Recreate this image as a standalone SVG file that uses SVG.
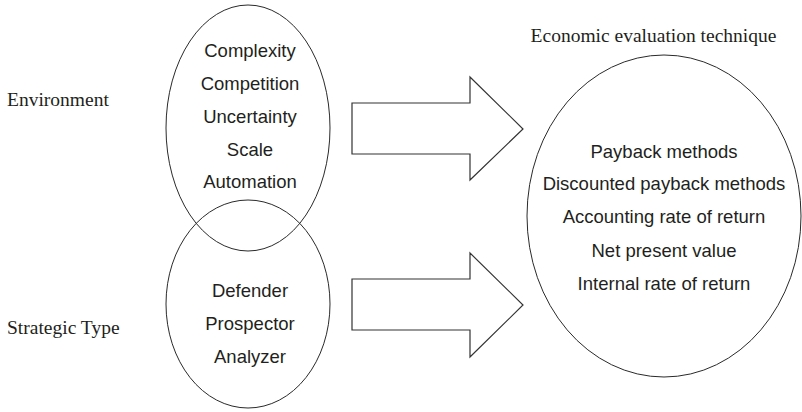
<svg xmlns="http://www.w3.org/2000/svg" width="802" height="412" viewBox="0 0 802 412">
<style>
.shape{fill:none;stroke:#2a2a2a;stroke-width:1}
.arrow{fill:#fff;stroke:#333;stroke-width:1.2}
.sans{font-family:"Liberation Sans",Arial,sans-serif;font-size:18.5px;fill:#231f20;text-anchor:middle}
.serif{font-family:"Liberation Serif","Times New Roman",serif;font-size:19.5px;fill:#231f20}
</style>
<rect width="802" height="412" fill="#fff"/>
<g id="connectors">
<path class="arrow" d="M352,103 H470 V77 L523,129 L470,180 V154 H352 Z"/>
<path class="arrow" d="M352,279 H470 V253 L523,305 L470,357 V330 H352 Z"/>
</g>
<g id="environment">
<ellipse class="shape" cx="248" cy="128" rx="82" ry="123"/>
<text class="serif" x="7" y="106">Environment</text>
<text class="sans" x="250" y="57">Complexity</text>
<text class="sans" x="250" y="90">Competition</text>
<text class="sans" x="250" y="123">Uncertainty</text>
<text class="sans" x="250" y="156">Scale</text>
<text class="sans" x="250" y="188">Automation</text>
</g>
<g id="strategic-type">
<ellipse class="shape" cx="248" cy="304" rx="82" ry="104"/>
<text class="serif" x="7" y="334">Strategic Type</text>
<text class="sans" x="250" y="297">Defender</text>
<text class="sans" x="250" y="330">Prospector</text>
<text class="sans" x="250" y="363">Analyzer</text>
</g>
<g id="economic-evaluation">
<text class="serif" x="653.5" y="42" text-anchor="middle">Economic evaluation technique</text>
<ellipse class="shape" cx="664" cy="216" rx="137" ry="161"/>
<text class="sans" x="664" y="158">Payback methods</text>
<text class="sans" x="664" y="190">Discounted payback methods</text>
<text class="sans" x="664" y="223">Accounting rate of return</text>
<text class="sans" x="664" y="257">Net present value</text>
<text class="sans" x="664" y="290">Internal rate of return</text>
</g>
</svg>
